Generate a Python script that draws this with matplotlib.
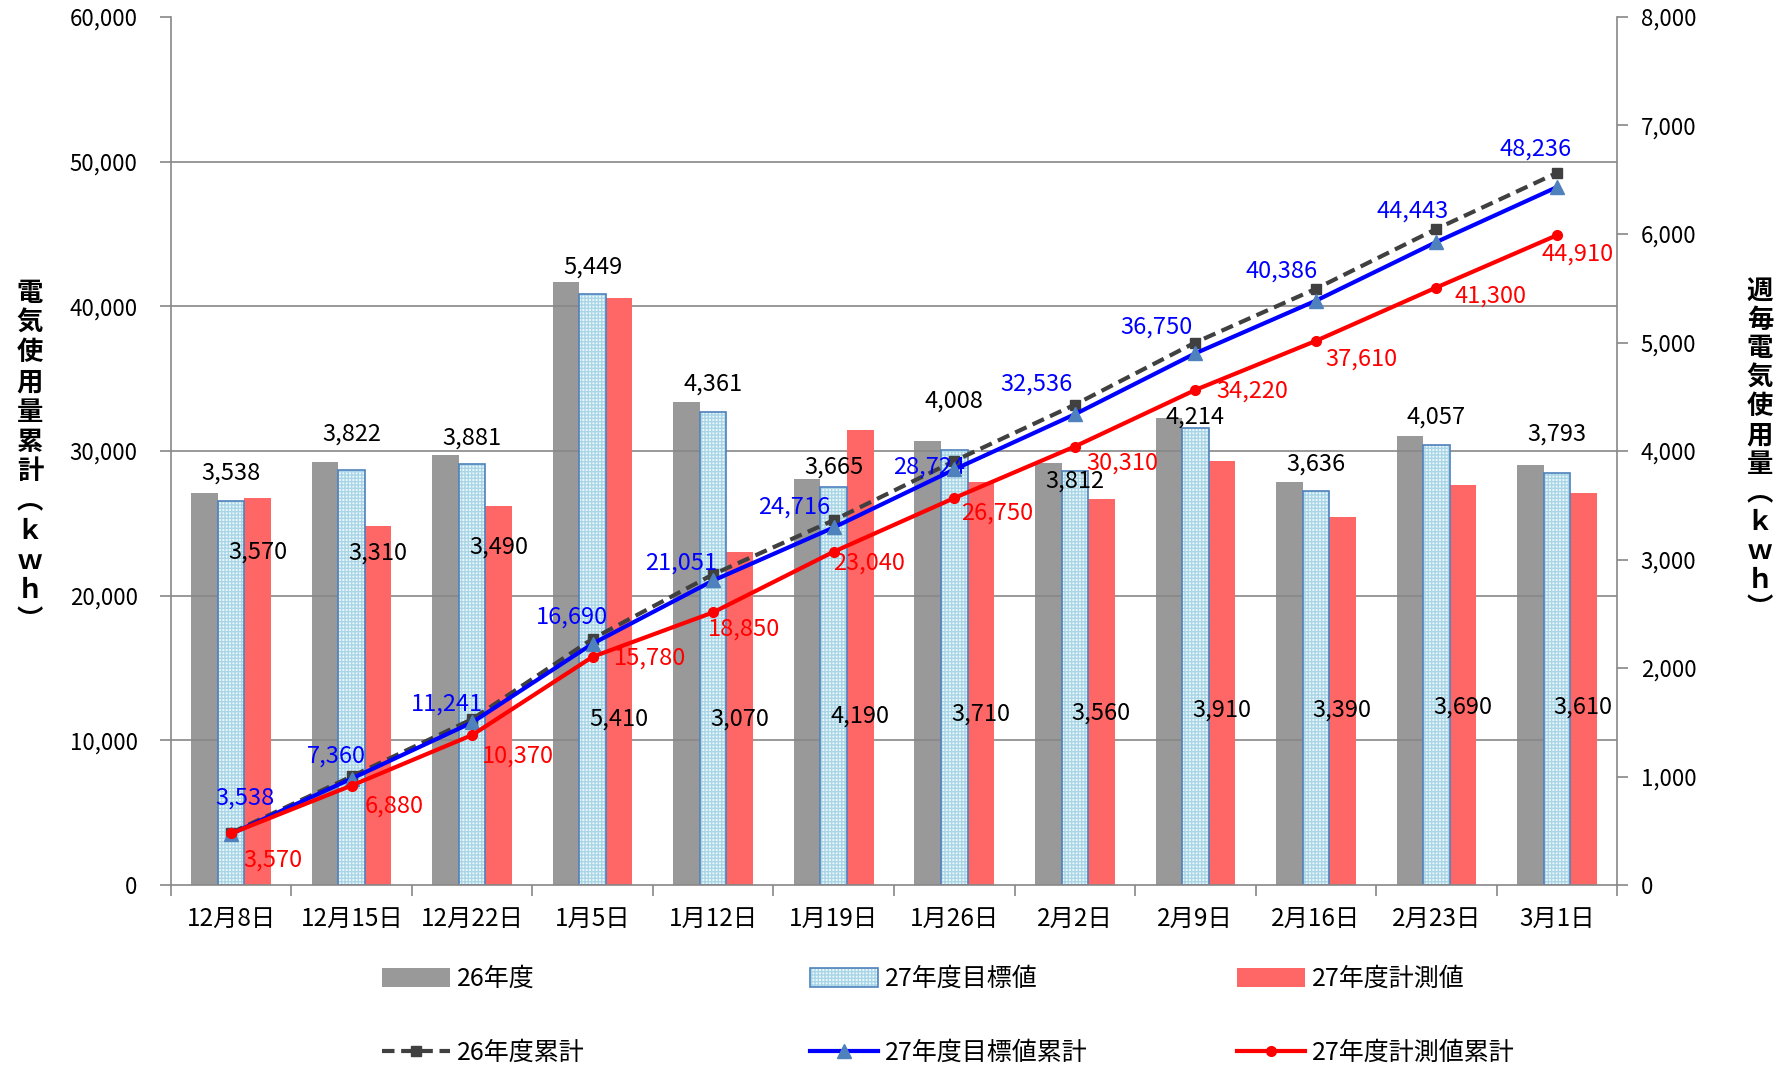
import numpy as np
import matplotlib
matplotlib.use("Agg")
import matplotlib.pyplot as plt
from matplotlib.patches import Patch
from matplotlib.lines import Line2D
from matplotlib.legend_handler import HandlerTuple
from matplotlib.ticker import FuncFormatter

plt.rcParams['font.family'] = ['Noto Sans CJK JP', 'DejaVu Sans']

# ---------------- data ----------------
categories = ["12月8日", "12月15日", "12月22日", "1月5日", "1月12日", "1月19日",
              "1月26日", "2月2日", "2月9日", "2月16日", "2月23日", "3月1日"]
weekly_26 = [3610, 3900, 3960, 5560, 4450, 3740, 4090, 3890, 4300, 3710, 4140, 3870]
weekly_27_target = [3538, 3822, 3881, 5449, 4361, 3665, 4008, 3812, 4214, 3636, 4057, 3793]
weekly_27_measured = [3570, 3310, 3490, 5410, 3070, 4190, 3710, 3560, 3910, 3390, 3690, 3610]
cum_26 = list(np.cumsum(weekly_26))
cum_27_target = [3538, 7360, 11241, 16690, 21051, 24716, 28724, 32536, 36750, 40386, 44443, 48236]
cum_27_measured = [3570, 6880, 10370, 15780, 18850, 23040, 26750, 30310, 34220, 37610, 41300, 44910]

left_ticks = [0, 10000, 20000, 30000, 40000, 50000, 60000]
right_ticks = [0, 1000, 2000, 3000, 4000, 5000, 6000, 7000, 8000]

# ---------------- layout (label placement) ----------------
target_label_y = [3796, 4153, 4122, 5699, 4616, 3849, 4458, 3722, 4311, 3880, 4311, 4153]
measured_label_y = [3070, 3060, 3112, 1525, 1525, 1556, 1577, 1588, 1609, 1609, 1640, 1640]
blue_off = [(14, 36), (-15, 22), (-25, 18), (-21, 26), (-32, 17), (-40, 20), (-25, 2),
            (-38, 30), (-39, 26), (-34, 30), (-24, 31), (-21, 38)]
red_off = [(42, -27), (42, -21), (46, -21), (57, -1), (31, -17), (35, -11), (43, -15),
           (48, -17), (57, -1), (46, -18), (54, -9), (21, -19)]

GRAY = '#999999'
RED_BAR = '#ff6666'
HATCH_FACE = '#eef7fb'
HATCH_COL = '#a9d6e6'
TARGET_EDGE = '#4f81bd'
SPINE = '#888888'

fig = plt.figure(figsize=(17.88, 10.68), dpi=100)
ax = fig.add_axes([0.0956, 0.1713, 0.8088, 0.8128])   # bars (right scale)
axL = ax.twinx()                                     # cumulative lines (left scale)

x = np.arange(len(categories))
w = 0.22

plt.rcParams['hatch.linewidth'] = 1.0
b_gray = ax.bar(x - w, weekly_26, w, color=GRAY, zorder=1, linewidth=0)
# gridlines according to left axis ticks, mapped onto the bar scale
for t in left_ticks[1:-1]:
    ax.axhline(t * right_ticks[-1] / left_ticks[-1], color=SPINE, lw=1.2, zorder=1.5)
b_tgt = ax.bar(x, weekly_27_target, w, facecolor=HATCH_FACE, edgecolor=HATCH_COL,
               hatch='+++++', linewidth=0, zorder=2)
b_tgt_edge = ax.bar(x, weekly_27_target, w, fill=False, edgecolor=TARGET_EDGE,
                    linewidth=1.2, zorder=2.1)
b_red = ax.bar(x + w, weekly_27_measured, w, color=RED_BAR, linewidth=0, zorder=2)

fs = 17
for i in range(len(x)):
    ax.text(x[i], target_label_y[i], f"{weekly_27_target[i]:,}", ha='center', va='center',
            fontsize=fs, color='black', zorder=5)
    ax.text(x[i] + w, measured_label_y[i], f"{weekly_27_measured[i]:,}", ha='center', va='center',
            fontsize=fs, color='black', zorder=5)

ax.set_ylim(right_ticks[0], right_ticks[-1])
ax.set_xlim(-0.5, len(x) - 0.5)

# lines
l26, = axL.plot(x, cum_26, color='#404040', lw=3, ls=(0, (3, 1.6)), marker='s', ms=7,
                mfc='#404040', mec='#404040', zorder=3)
lt, = axL.plot(x, cum_27_target, color='#0000ff', lw=3, marker='^', ms=10,
               mfc='#4f81bd', mec='#4f81bd', zorder=4)
lm, = axL.plot(x, cum_27_measured, color='#ff0000', lw=3, marker='o', ms=7,
               mfc='#ff0000', mec='#ff0000', zorder=5)

for i in range(len(x)):
    axL.annotate(f"{cum_27_target[i]:,}", (x[i], cum_27_target[i]), xytext=blue_off[i],
                 textcoords='offset pixels', ha='center', va='center', fontsize=fs, color='#0000ff')
    axL.annotate(f"{cum_27_measured[i]:,}", (x[i], cum_27_measured[i]), xytext=red_off[i],
                 textcoords='offset pixels', ha='center', va='center', fontsize=fs, color='#ff0000')

axL.set_ylim(left_ticks[0], left_ticks[-1])

# axes styling
tfs = 16
axL.yaxis.tick_left()
axL.yaxis.set_label_position('left')
ax.yaxis.tick_right()
axL.set_yticks(left_ticks)
ax.set_yticks(right_ticks)
fmt = FuncFormatter(lambda v, p: f"{int(v):,}")
axL.yaxis.set_major_formatter(fmt)
ax.yaxis.set_major_formatter(fmt)
axL.tick_params(axis='y', direction='out', length=8, width=1.2, color=SPINE, pad=16, labelsize=tfs)
ax.tick_params(axis='y', direction='out', length=8, width=1.2, color=SPINE, pad=9, labelsize=tfs,
               left=False, labelleft=False, right=True, labelright=True)

ax.set_xticks(x)
ax.set_xticklabels(categories, fontsize=17.5)
ax.set_xticks(np.arange(-0.5, len(x), 1.0), minor=True)
ax.tick_params(axis='x', which='major', length=0, pad=15)
ax.tick_params(axis='x', which='minor', length=8, width=1.2, color=SPINE, direction='out')
axL.tick_params(axis='x', which='both', bottom=False, labelbottom=False)

for a in (ax, axL):
    for s in a.spines.values():
        s.set_visible(False)
for side in ('left', 'right', 'bottom'):
    axL.spines[side].set_visible(True)
    axL.spines[side].set_color(SPINE)
    axL.spines[side].set_linewidth(1.2)

# vertical axis titles
left_title = "電気使用量累計︵ｋｗｈ︶"
right_title = "週毎電気使用量︵ｋｗｈ︶"
fig.text(30 / 1788, 1 - 457 / 1068, "\n".join(left_title), ha='center', va='center',
         fontsize=19, fontweight='bold', linespacing=1.13)
fig.text(1760 / 1788, 1 - 450 / 1068, "\n".join(right_title), ha='center', va='center',
         fontsize=19, fontweight='bold', linespacing=1.09)

# legends (three columns, two rows each)
h_gray = Patch(facecolor=GRAY, edgecolor='none')
h_tgt = (Patch(facecolor=HATCH_FACE, edgecolor=HATCH_COL, hatch='+++++', linewidth=0),
         Patch(fill=False, edgecolor=TARGET_EDGE, linewidth=1.2))
h_red = Patch(facecolor=RED_BAR, edgecolor='none')
cols = [([h_gray, l26], ["26年度", "26年度累計"], 382),
        ([h_tgt, lt], ["27年度目標値", "27年度目標値累計"], 810),
        ([h_red, lm], ["27年度計測値", "27年度計測値累計"], 1237)]
for handles, labels, xpx in cols:
    fig.legend(handles, labels, loc='center left',
               bbox_to_anchor=(xpx / 1788, 1 - 1016 / 1068),
               frameon=False, fontsize=18, handlelength=2.7, handleheight=0.75,
               handletextpad=0.3, labelspacing=1.9, borderpad=0, borderaxespad=0,
               handler_map={tuple: HandlerTuple(ndivide=1, pad=0)})

fig.savefig("out.png", dpi=100)
